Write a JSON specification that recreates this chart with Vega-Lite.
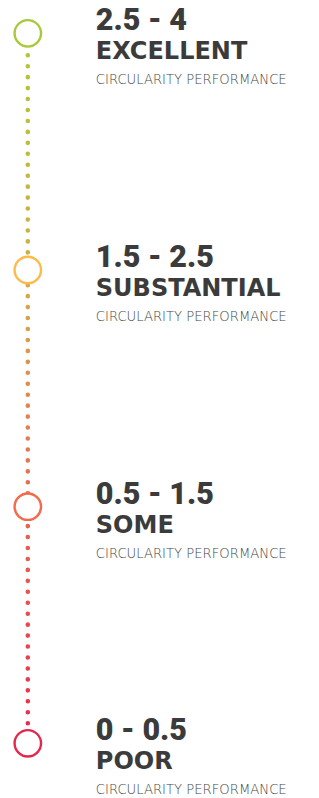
{
  "$schema": "https://vega.github.io/schema/vega-lite/v6.json",
  "width": 319,
  "height": 798,
  "autosize": {"type": "fit", "contains": "padding"},
  "padding": 0,
  "background": "#ffffff",
  "config": {"view": {"stroke": null}},
  "datasets": {
    "levels": [
      {"rank": 4, "range": "2.5 - 4", "label": "EXCELLENT", "sub": "CIRCULARITY PERFORMANCE"},
      {"rank": 3, "range": "1.5 - 2.5", "label": "SUBSTANTIAL", "sub": "CIRCULARITY PERFORMANCE"},
      {"rank": 2, "range": "0.5 - 1.5", "label": "SOME", "sub": "CIRCULARITY PERFORMANCE"},
      {"rank": 1, "range": "0 - 0.5", "label": "POOR", "sub": "CIRCULARITY PERFORMANCE"}
    ],
    "track": [{"top": 4, "bottom": 1, "pos": 0, "pos2": 0.0005}]
  },
  "resolve": {"scale": {"x": "shared", "y": "shared"}},
  "layer": [
    {
      "data": {"name": "track"},
      "mark": {
        "type": "rule",
        "strokeWidth": 4.6,
        "strokeCap": "round",
        "strokeDash": [0, 10.95],
        "color": {
          "gradient": "linear",
          "x1": 0, "y1": 0, "x2": 0, "y2": 1,
          "stops": [
            {"offset": 0, "color": "#aec93a"},
            {"offset": 0.29, "color": "#c8b33e"},
            {"offset": 0.38, "color": "#d6a64a"},
            {"offset": 0.52, "color": "#e0874f"},
            {"offset": 0.83, "color": "#e84a4e"},
            {"offset": 1, "color": "#e6294b"}
          ]
        }
      },
      "encoding": {
        "x": {"field": "pos", "type": "quantitative", "scale": {"domain": [-1, 10.47], "nice": false, "zero": false}, "axis": null},
        "x2": {"field": "pos2"},
        "y": {"field": "top", "type": "quantitative", "scale": {"domain": [0.769, 4.141], "nice": false, "zero": false}, "axis": null},
        "y2": {"field": "bottom"}
      }
    },
    {
      "data": {"name": "levels"},
      "layer": [
        {
          "mark": {"type": "point", "shape": "circle", "size": 700, "filled": false, "fill": "#ffffff", "fillOpacity": 1, "strokeWidth": 2.4, "opacity": 1},
          "encoding": {
            "x": {"datum": 0, "type": "quantitative", "scale": {"domain": [-1, 10.47], "nice": false, "zero": false}, "axis": null},
            "y": {"field": "rank", "type": "quantitative", "scale": {"domain": [0.769, 4.141], "nice": false, "zero": false}, "axis": null},
            "stroke": {"field": "label", "type": "nominal", "legend": null,
              "scale": {"domain": ["EXCELLENT", "SUBSTANTIAL", "SOME", "POOR"], "range": ["#a7c93a", "#fbbc4a", "#f36a4c", "#e4284b"]}}
          }
        },
        {
          "mark": {"type": "text", "align": "left", "baseline": "alphabetic", "dx": 68, "dy": -3, "font": "Roboto", "fontWeight": 900, "fontSize": 30.5, "fill": "#3b3b3b"},
          "encoding": {
            "x": {"datum": 0, "type": "quantitative"},
            "y": {"field": "rank", "type": "quantitative"},
            "text": {"field": "range"}
          }
        },
        {
          "mark": {"type": "text", "align": "left", "baseline": "alphabetic", "dx": 68, "dy": 26, "font": "DejaVu Sans", "fontWeight": "bold", "fontSize": 24, "fill": "#3b3b3b"},
          "encoding": {
            "x": {"datum": 0, "type": "quantitative"},
            "y": {"field": "rank", "type": "quantitative"},
            "text": {"field": "label"}
          }
        },
        {
          "mark": {"type": "text", "align": "left", "baseline": "alphabetic", "dx": 68, "dy": 51, "font": "DejaVu Sans", "fontWeight": 200, "fontSize": 13.2, "fill": "#454545"},
          "encoding": {
            "x": {"datum": 0, "type": "quantitative"},
            "y": {"field": "rank", "type": "quantitative"},
            "text": {"field": "sub"}
          }
        }
      ]
    }
  ]
}
